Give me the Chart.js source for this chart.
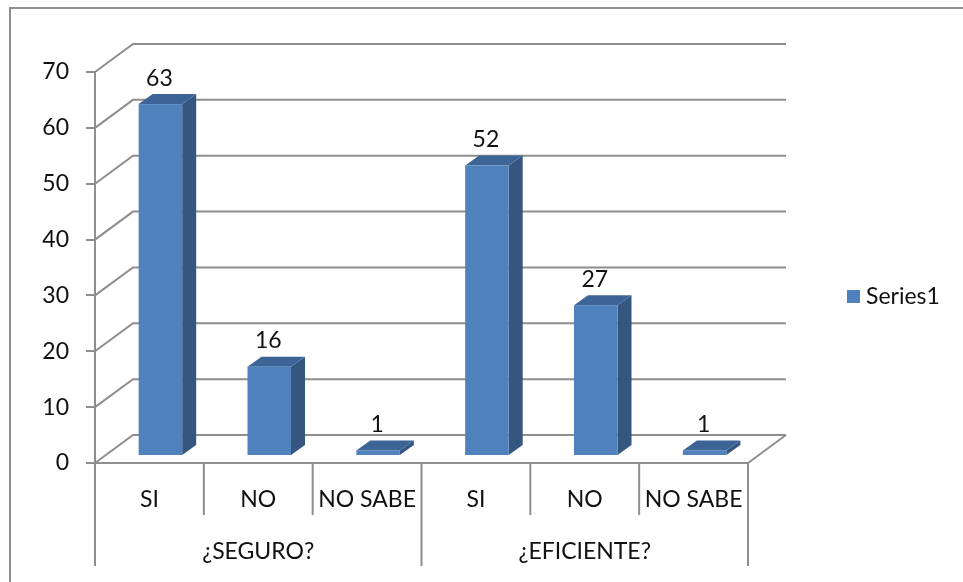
<!DOCTYPE html>
<html>
<head>
<meta charset="utf-8">
<script src="https://cdn.jsdelivr.net/npm/chart.js@4.4.0/dist/chart.umd.min.js"></script>
<style>
    html, body { margin: 0; padding: 0; background: #fff; overflow: hidden; }
    #wrap { position: relative; width: 963px; height: 582px; }
    #frame { position: absolute; left: 9px; top: 7px; width: 1000px; height: 1000px;
             border-left: 2px solid #8e8e8e; border-top: 2px solid #8e8e8e; pointer-events: none; }
    canvas { position: absolute; left: 0; top: 0; }
</style>
</head>
<body>
<div id="wrap">
    <canvas id="chart" width="963" height="582"></canvas>
    <div id="frame"></div>
</div>
<script>
// data
const categories = ['SI', 'NO', 'NO SABE', 'SI', 'NO', 'NO SABE'];
const groups = ['¿SEGURO?', '¿EFICIENTE?'];
const values = [63, 16, 1, 52, 27, 1];
const seriesName = 'Series1';
const yMin = 0;
const yMax = 70;
const yStep = 10;

const FONT = { family: 'Lato', size: 23 };
const COLORS = {
    front: '#4f81bd',
    side: '#34567f',
    top: '#3d6496',
    grid: '#8e8e8e',
    text: '#111111'
};
// wall depth and bar depth, in pixels
const DEPTH = { x: 38, y: -28 };
const BAR = { dx: 11, dy: -7, sx: 14, sy: -10 };

const box3d = {
    id: 'box3d',
    beforeDatasetsDraw(chart) {
        const { ctx, chartArea: a, scales: { y } } = chart;
        ctx.save();
        ctx.strokeStyle = COLORS.grid;
        ctx.lineWidth = 2;
        y.ticks.forEach(t => {
            const py = y.getPixelForValue(t.value);
            ctx.beginPath();
            ctx.moveTo(a.left, py);
            ctx.lineTo(a.left + DEPTH.x, py + DEPTH.y);
            ctx.lineTo(a.right + DEPTH.x, py + DEPTH.y);
            ctx.stroke();
        });
        // right edge of the floor
        ctx.beginPath();
        ctx.moveTo(a.right, a.bottom);
        ctx.lineTo(a.right + DEPTH.x, a.bottom + DEPTH.y);
        ctx.stroke();
        ctx.restore();
    },
    beforeDatasetDraw(chart, args) {
        const { ctx } = chart;
        const meta = args.meta;
        ctx.save();
        meta.data.forEach(bar => {
            const p = bar.getProps(['x', 'y', 'base', 'width'], true);
            const x1 = p.x - p.width / 2 + BAR.dx;
            const x2 = p.x + p.width / 2 + BAR.dx;
            const yT = p.y + BAR.dy;
            const yB = p.base + BAR.dy;
            // side
            ctx.fillStyle = COLORS.side;
            ctx.beginPath();
            ctx.moveTo(x2, yT);
            ctx.lineTo(x2 + BAR.sx, yT + BAR.sy);
            ctx.lineTo(x2 + BAR.sx, yB + BAR.sy);
            ctx.lineTo(x2, yB);
            ctx.closePath();
            ctx.fill();
            // top
            ctx.fillStyle = COLORS.top;
            ctx.beginPath();
            ctx.moveTo(x1, yT);
            ctx.lineTo(x1 + BAR.sx, yT + BAR.sy);
            ctx.lineTo(x2 + BAR.sx, yT + BAR.sy);
            ctx.lineTo(x2, yT);
            ctx.closePath();
            ctx.fill();
            // front
            ctx.fillStyle = COLORS.front;
            ctx.fillRect(x1, yT, x2 - x1, yB - yT);
        });
        ctx.restore();
        return false;
    },
    afterDraw(chart) {
        const { ctx, chartArea: a, scales: { x, x2, y } } = chart;
        ctx.save();

        // category dividers under the floor
        ctx.strokeStyle = COLORS.grid;
        ctx.lineWidth = 2;
        const step = x.getPixelForTick(1) - x.getPixelForTick(0);
        for (let i = 0; i <= categories.length; i++) {
            const px = x.getPixelForTick(0) - step / 2 + i * step;
            const long = i % 3 === 0;
            ctx.beginPath();
            ctx.moveTo(px, a.bottom);
            ctx.lineTo(px, long ? x2.bottom : x.bottom);
            ctx.stroke();
        }

        // value labels
        ctx.fillStyle = COLORS.text;
        ctx.font = `${FONT.size}px ${FONT.family}`;
        ctx.textAlign = 'center';
        ctx.textBaseline = 'middle';
        const meta = chart.getDatasetMeta(0);
        meta.data.forEach((bar, i) => {
            const p = bar.getProps(['x', 'y'], true);
            ctx.fillText(String(values[i]), p.x + BAR.dx - 1, p.y + BAR.dy + BAR.sy - 16);
        });

        // legend
        const ds = chart.data.datasets[0];
        ctx.fillStyle = ds.backgroundColor;
        ctx.fillRect(847, 290, 13, 13);
        ctx.fillStyle = COLORS.text;
        ctx.textAlign = 'left';
        ctx.fillText(ds.label, 866, 297);
        ctx.restore();
    }
};

new Chart(document.getElementById('chart'), {
    type: 'bar',
    data: {
        labels: categories,
        datasets: [{
            label: seriesName,
            data: values,
            backgroundColor: COLORS.front,
            categoryPercentage: 1,
            barPercentage: 0.4
        }]
    },
    options: {
        responsive: false,
        animation: false,
        layout: { padding: { left: 0, right: 215, top: 72, bottom: 16 } },
        plugins: {
            legend: { display: false },
            tooltip: { enabled: false }
        },
        scales: {
            y: {
                min: yMin,
                max: yMax,
                afterFit: s => { s.width = 95; },
                ticks: { stepSize: yStep, padding: 17, color: COLORS.text, font: FONT },
                grid: { drawOnChartArea: false, drawTicks: true, tickLength: 9, color: COLORS.grid, lineWidth: 2 },
                border: { display: true, color: COLORS.grid, width: 2 }
            },
            x: {
                weight: 0,
                afterFit: s => { s.height = 52; },
                ticks: { padding: 15, color: COLORS.text, font: FONT, maxRotation: 0, autoSkip: false },
                grid: { display: false },
                border: { display: true, color: COLORS.grid, width: 2 }
            },
            x2: {
                type: 'category',
                position: 'bottom',
                weight: 1,
                labels: groups,
                offset: true,
                afterFit: s => { s.height = 51; },
                ticks: { padding: 15, color: COLORS.text, font: FONT, maxRotation: 0 },
                grid: { display: false },
                border: { display: false }
            }
        }
    },
    plugins: [box3d]
});
</script>
</body>
</html>
